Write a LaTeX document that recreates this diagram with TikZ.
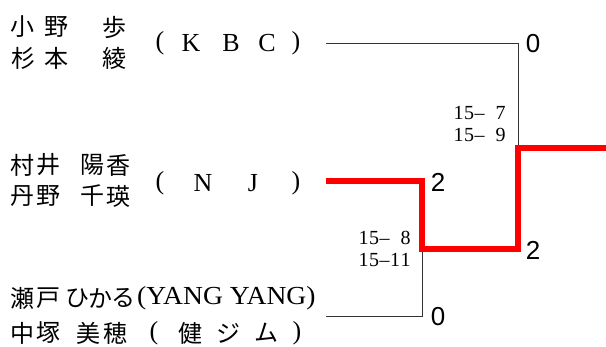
\documentclass[tikz,border=0pt]{standalone}
\usepackage{fontspec}
\setmainfont{Liberation Serif}
\newfontfamily\cjk{Noto Sans CJK JP}
\newfontfamily\arialf{Liberation Sans}
\newcommand{\mc}[1]{\makebox[10.5pt]{#1}}
\begin{document}
\begin{tikzpicture}[x=1pt,y=-1pt,
  cj/.style={inner sep=0pt, font=\cjk\fontsize{24}{24}\selectfont},
  lat/.style={inner sep=0pt, font=\fontsize{26}{26}\selectfont},
  score/.style={inner sep=0pt, anchor=east, font=\fontsize{20}{20}\selectfont},
  res/.style={inner sep=0pt, font=\arialf\fontsize{26}{26}\selectfont},
  thinline/.style={draw=black!80, line width=1pt},
  win/.style={draw=red, line width=5.5pt}]
\useasboundingbox (0,0) rectangle (606,347);
% group 1
\foreach \x/\c [count=\i] in {22/小,56/野,114/歩} \node[cj,name=a\i] at (\x,27) {\c};
\foreach \x/\c [count=\i] in {23/杉,56/本,114/綾} \node[cj,name=b\i] at (\x,58) {\c};
\foreach \x/\c [count=\i] in {160/(,191/K,231/B,267/C,296/)} \node[lat,name=c\i] at (\x,43) {\c};
% group 2
\foreach \x/\c [count=\i] in {22/村,48/井,92/陽,118/香} \node[cj,name=d\i] at (\x,165) {\c};
\foreach \x/\c [count=\i] in {22/丹,48/野,92/千,118/瑛} \node[cj,name=e\i] at (\x,196) {\c};
\foreach \x/\c [count=\i] in {160/(,203/N,253/J,296/)} \node[lat,name=f\i] at (\x,183) {\c};
% group 3
\foreach \x/\c [count=\i] in {22/瀬,48/戸,77/ひ,100/か,123/る} \node[cj,name=g\i] at (\x,298) {\c};
\node[lat,anchor=west,name=g6] at (137,298) {\scalebox{1.06}[1]{(YANG YANG)}};
\foreach \x/\c [count=\i] in {22/中,48/塚,88/美,115/穂,190/健,228/ジ,266/ム} \node[cj,name=h\i] at (\x,333) {\c};
\foreach \x/\c [count=\i] in {154/(,297/)} \node[lat,name=k\i] at (\x,333) {\c};
% scores
\node[score,name=s1] at (506,113) {\mc{1}\mc{5}\mc{–}\mc{}\mc{7}};
\node[score,name=s2] at (506,135) {\mc{1}\mc{5}\mc{–}\mc{}\mc{9}};
\node[score,name=s3] at (411,238) {\mc{1}\mc{5}\mc{–}\mc{}\mc{8}};
\node[score,name=s4] at (411,260) {\mc{1}\mc{5}\mc{–}\mc{1}\mc{1}};
% results
\node[res,name=r1] at (533,44) {0};
\node[res,name=r2] at (438,182) {2};
\node[res,name=r3] at (533,250) {2};
\node[res,name=r4] at (438,317) {0};
% lines
\coordinate (t1) at (326,44);
\coordinate (t2) at (518,44);
\coordinate (j1) at (518,148);
\coordinate (w) at (606,148);
\coordinate (m1) at (326,181);
\coordinate (m2) at (422,181);
\coordinate (j2) at (422,249);
\coordinate (j3) at (518,249);
\coordinate (b1) at (326,317);
\coordinate (b2) at (422,317);
\draw[thinline] (t1) -- (t2) -- (j1);
\draw[thinline] (b1) -- (b2) -- (j2);
\draw[win] (m1) -- (m2) -- (j2) -- (j3) -- (j1) -- (w);
\end{tikzpicture}
\end{document}
